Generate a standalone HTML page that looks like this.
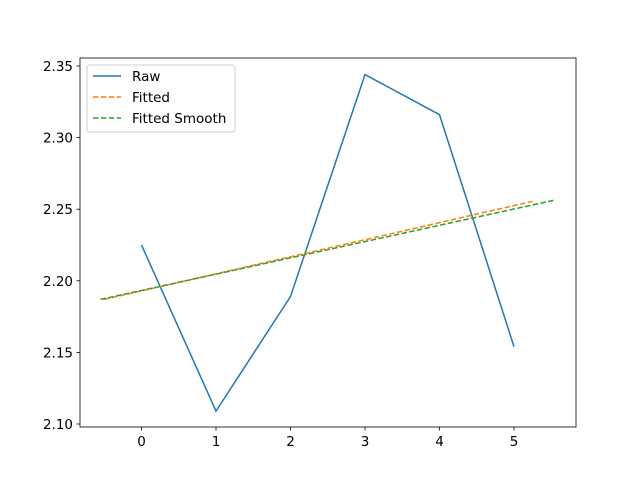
<!DOCTYPE html>
<html><head><meta charset="utf-8"><style>
html,body{margin:0;padding:0;background:#fff}
svg text{font-family:"DejaVu Sans","Liberation Sans",sans-serif;font-size:13.5px;fill:#000}
</style></head><body>
<svg id="chart" width="640" height="480" xmlns="http://www.w3.org/2000/svg">
<rect x="0" y="0" width="640" height="480" fill="#fff"/>
<g id="plot"></g>
</svg>
<script>
const rawX=[0,1,2,3,4,5];
const rawY=[2.225,2.109,2.189,2.344,2.316,2.154];
const fitX=[-0.5,5.25];
const fitY=[2.187,2.2555];
const smoothX=[-0.55,5.55];
const smoothY=[2.187,2.2564];
const xTicks=[0,1,2,3,4,5];
const yTicks=[2.10,2.15,2.20,2.25,2.30,2.35];
const L=80,R=576,T=58,B=427;
const xs=v=>141.5+(v-0)*74.5;
const ys=v=>424-(v-2.10)*1432;
const ns="http://www.w3.org/2000/svg";
const g=document.getElementById('plot');
function mk(t,a){const e=document.createElementNS(ns,t);for(const k in a)e.setAttribute(k,a[k]);g.appendChild(e);return e;}
function line(xa,ya,color,dash,name){
  const p=mk('polyline',{points:xa.map((x,i)=>xs(x)+','+ys(ya[i])).join(' '),fill:'none',stroke:color,'stroke-width':1.5});
  if(dash)p.setAttribute('stroke-dasharray',dash);
  
  
}
line(rawX,rawY,'#1f77b4',null,'raw-line');
line(fitX,fitY,'#ff7f0e','5.5,2.4','fitted-line');
line(smoothX,smoothY,'#2ca02c','5.5,2.4','fitted-smooth-line');
const fr=mk('rect',{x:L,y:T,width:R-L,height:B-T,fill:'none',stroke:'#000','stroke-width':0.8});


xTicks.forEach(t=>{
  const x=xs(t);
  const tk=mk('line',{x1:x,y1:B,x2:x,y2:B+3.5,stroke:'#000','stroke-width':0.8});
  
  
  const tx=mk('text',{x:x,y:B+19,'text-anchor':'middle'});tx.textContent=t;
  
  
});
yTicks.forEach(t=>{
  const y=ys(t);
  const tk=mk('line',{x1:L-3.5,y1:y,x2:L,y2:y,stroke:'#000','stroke-width':0.8});
  
  
  const tx=mk('text',{x:L-7,y:y+5,'text-anchor':'end'});tx.textContent=t.toFixed(2);
  
  
});
const lg=mk('rect',{x:87,y:65,width:148,height:67,rx:3,fill:'#fff','fill-opacity':0.8,stroke:'#ccc','stroke-width':1});


[['Raw','#1f77b4',null],['Fitted','#ff7f0e','5.5,2.4'],['Fitted Smooth','#2ca02c','5.5,2.4']].forEach((e,i)=>{
  const y=76+i*21;
  const l=mk('line',{x1:93,y1:y,x2:121,y2:y,stroke:e[1],'stroke-width':1.5});
  if(e[2])l.setAttribute('stroke-dasharray',e[2]);
  
  
  const t=mk('text',{x:132,y:y+5});t.textContent=e[0];
  
  
});
</script>
</body></html>
